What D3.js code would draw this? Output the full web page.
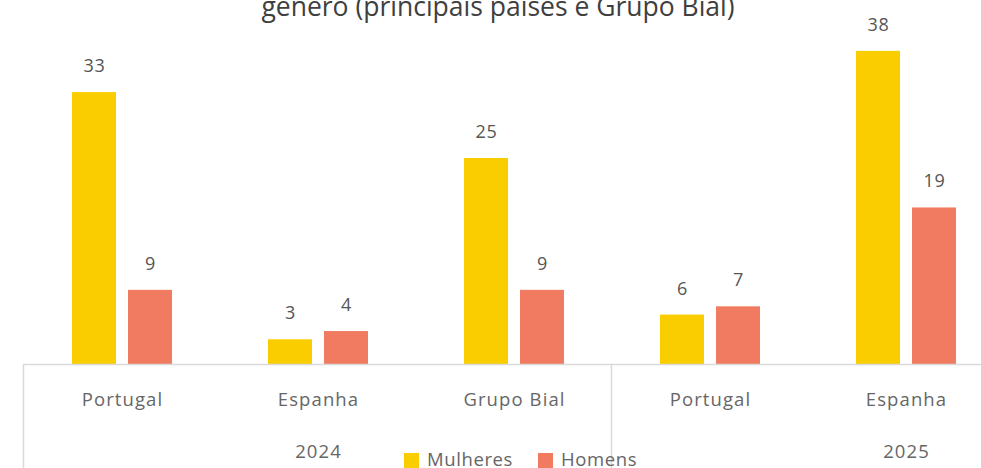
<!DOCTYPE html>
<html>
<head>
<meta charset="utf-8">
<script src="https://cdn.jsdelivr.net/npm/d3@7"></script>
<style>
  html, body { margin: 0; padding: 0; background: #fff; }
  svg { display: block; font-family: "Open Sans", "DejaVu Sans", sans-serif; }
</style>
</head>
<body>
<div id="chart"></div>
<script>
// Categories, grouped by year
const categories = ["Portugal", "Espanha", "Grupo Bial", "Portugal", "Espanha"];
const years = ["2024", "2024", "2024", "2025", "2025"];
const series = ["Mulheres", "Homens"];
const mulheres = [33, 3, 25, 6, 38];
const homens = [9, 4, 9, 7, 19];
const colors = ["#FACD00", "#F07B60"];
const title = "género (principais países e Grupo Bial)";

const W = 981, H = 468;
const svg = d3.select("#chart").append("svg")
  .attr("width", W).attr("height", H);

const baseY = 364;
const slotW = 196;
const x0 = d3.scaleBand()
  .domain(d3.range(categories.length))
  .range([24, 24 + slotW * categories.length])
  .paddingInner(0).paddingOuter(0);
const x1 = d3.scaleBand()
  .domain(series)
  .range([0, x0.bandwidth()])
  .paddingInner(12 / 56)
  .paddingOuter(48 / 56);
const y = d3.scaleLinear().domain([0, 40]).range([baseY, baseY - 40 * 8.24]);

const values = [mulheres, homens];
const rows = categories.map((c, i) => ({ i, cat: c, year: years[i] }));

const labelColor = "#666666";
const valueColor = "#555555";

// Bars and their value labels
series.forEach((s, si) => {
  const g = svg.append("g");
  g.selectAll("rect").data(rows).join("rect")
    .attr("x", d => x0(d.i) + x1(s))
    .attr("y", d => y(values[si][d.i]))
    .attr("width", x1.bandwidth())
    .attr("height", d => y(0) - y(values[si][d.i]))
    .attr("fill", colors[si]);
  g.selectAll("text").data(rows).join("text")
    .attr("x", d => x0(d.i) + x1(s) + x1.bandwidth() / 2 + 0.5)
    .attr("y", d => y(values[si][d.i]) - 20)
    .attr("text-anchor", "middle")
    .attr("font-size", 18)
    .attr("letter-spacing", 0.8)
    .attr("fill", valueColor)
    .text(d => values[si][d.i]);
});

// Category axis with grouped year labels
const axisColor = "#d9d9d9";
svg.append("line")
  .attr("x1", x0.range()[0] - 1).attr("x2", W)
  .attr("y1", baseY + 0.5).attr("y2", baseY + 0.5)
  .attr("stroke", axisColor).attr("stroke-width", 1.5);

const groups = d3.groups(rows, d => d.year);
groups.forEach(([yr, items]) => {
  const left = x0(items[0].i) - 0.5;
  svg.append("line")
    .attr("x1", left).attr("x2", left)
    .attr("y1", baseY).attr("y2", H)
    .attr("stroke", axisColor).attr("stroke-width", 1.5);
  // year label sits under the group's second category
  const mid = items[1];
  svg.append("text")
    .attr("x", x0(mid.i) + x0.bandwidth() / 2 + 0.5)
    .attr("y", 458)
    .attr("text-anchor", "middle")
    .attr("font-size", 18.5)
    .attr("letter-spacing", 1.1)
    .attr("fill", labelColor)
    .text(yr);
});

svg.append("g").selectAll("text").data(rows).join("text")
  .attr("x", d => x0(d.i) + x0.bandwidth() / 2 + 0.5)
  .attr("y", 406)
  .attr("text-anchor", "middle")
  .attr("font-size", 18.5)
  .attr("letter-spacing", 1.1)
  .attr("fill", labelColor)
  .text(d => d.cat);

// Title (second line visible)
svg.append("text")
  .attr("x", 498).attr("y", 16)
  .attr("text-anchor", "middle")
  .attr("font-size", 26.5)
  .attr("fill", "#404040")
  .text(title);

// Legend
const legend = svg.append("g");
const legendX = [404, 538];
series.forEach((s, si) => {
  legend.append("rect")
    .attr("x", legendX[si]).attr("y", 453)
    .attr("width", 15).attr("height", 15)
    .attr("fill", colors[si]);
  legend.append("text")
    .attr("x", legendX[si] + 23).attr("y", 466)
    .attr("font-size", 18.5)
    .attr("letter-spacing", 0.6)
    .attr("fill", labelColor)
    .text(s);
});
</script>
</body>
</html>
